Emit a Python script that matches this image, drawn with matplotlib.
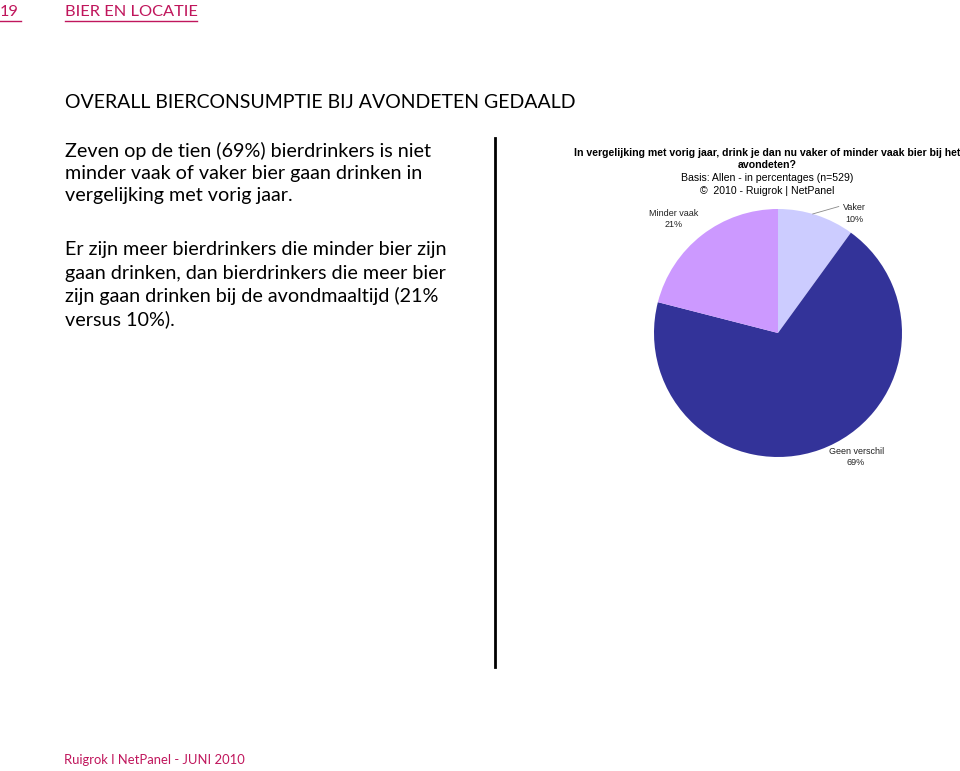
import matplotlib
matplotlib.use('Agg')
from matplotlib import pyplot as plt
from matplotlib.lines import Line2D

labels = ['Vaker', 'Geen verschil', 'Minder vaak']
values = [10, 69, 21]
colors = ['#CCCCFF', '#333399', '#CC99FF']

W, H = 960, 771
ACCENT = '#C0165C'

para1 = ['Zeven op de tien (69%) bierdrinkers is niet',
         'minder vaak of vaker bier gaan drinken in',
         'vergelijking met vorig jaar.']
para2 = ['Er zijn meer bierdrinkers die minder bier zijn',
         'gaan drinken, dan bierdrinkers die meer bier',
         'zijn gaan drinken bij de avondmaaltijd (21%',
         'versus 10%).']


def fx(x):
	return x / W


def fy(y):
	return 1 - y / H


fig = plt.figure(figsize=(9.6, 7.71), dpi=100)

# header
fig.text(fx(0), fy(12), '19', color=ACCENT, fontsize=11.8, family='Lato', va='center')
fig.text(fx(65), fy(12), 'BIER EN LOCATIE', color=ACCENT, fontsize=11.8, family='Lato', va='center')
fig.add_artist(Line2D([fx(0), fx(21)], [fy(21), fy(21)], color=ACCENT, lw=1))
fig.add_artist(Line2D([fx(65), fx(197)], [fy(21), fy(21)], color=ACCENT, lw=1))

fig.text(fx(65), fy(103), 'OVERALL BIERCONSUMPTIE BIJ AVONDETEN GEDAALD',
	fontsize=14, family='Lato', va='center')

for i, line in enumerate(para1):
	fig.text(fx(65), fy(151 + 22.5 * i), line, fontsize=14.2, family='Lato', va='center')
for i, line in enumerate(para2):
	fig.text(fx(65), fy(250 + 23 * i), line, fontsize=14.2, family='Lato', va='center')

fig.add_artist(Line2D([fx(495), fx(495)], [fy(138), fy(667)], color='black', lw=2))

fig.text(fx(64), fy(760), 'Ruigrok l NetPanel - JUNI 2010', color=ACCENT,
	fontsize=9.4, family='Lato', va='center')

# chart titles
fig.text(fx(767), fy(153), 'In vergelijking met vorig jaar, drink je dan nu vaker of minder vaak bier bij het',
	fontsize=7.6, fontweight='bold', family='Liberation Sans', ha='center', va='center')
fig.text(fx(767), fy(165), 'avondeten?',
	fontsize=7.6, fontweight='bold', family='Liberation Sans', ha='center', va='center')
fig.text(fx(767), fy(178), 'Basis: Allen - in percentages (n=529)',
	fontsize=7.6, family='Liberation Sans', ha='center', va='center')
fig.text(fx(767), fy(191), '\u00a9  2010 - Ruigrok | NetPanel',
	fontsize=7.6, family='Liberation Sans', ha='center', va='center')

# pie
ax = fig.add_axes([fx(654), fy(457), 248 / W, 248 / H])
ax.pie(values, colors=colors, startangle=90, counterclock=False, radius=1,
	wedgeprops={'linewidth': 0})
ax.set_xlim(-1, 1)
ax.set_ylim(-1, 1)
ax.set_aspect('equal')
ax.axis('off')

lab_pos = {'Vaker': (0.62, 0.965), 'Geen verschil': (0.63, -1.0), 'Minder vaak': (-0.84, 0.92)}
for lab, v in zip(labels, values):
	x, y = lab_pos[lab]
	ax.text(x, y, '{}\n{}%'.format(lab, v), ha='center', va='center', fontsize=6.5,
		family='Liberation Sans', linespacing=1.4, color='#222222', clip_on=False)

ax.add_line(Line2D([0.28, 0.49], [0.96, 1.02], color='#888888', lw=0.6, clip_on=False))

fig.savefig('out.png', dpi=100)
